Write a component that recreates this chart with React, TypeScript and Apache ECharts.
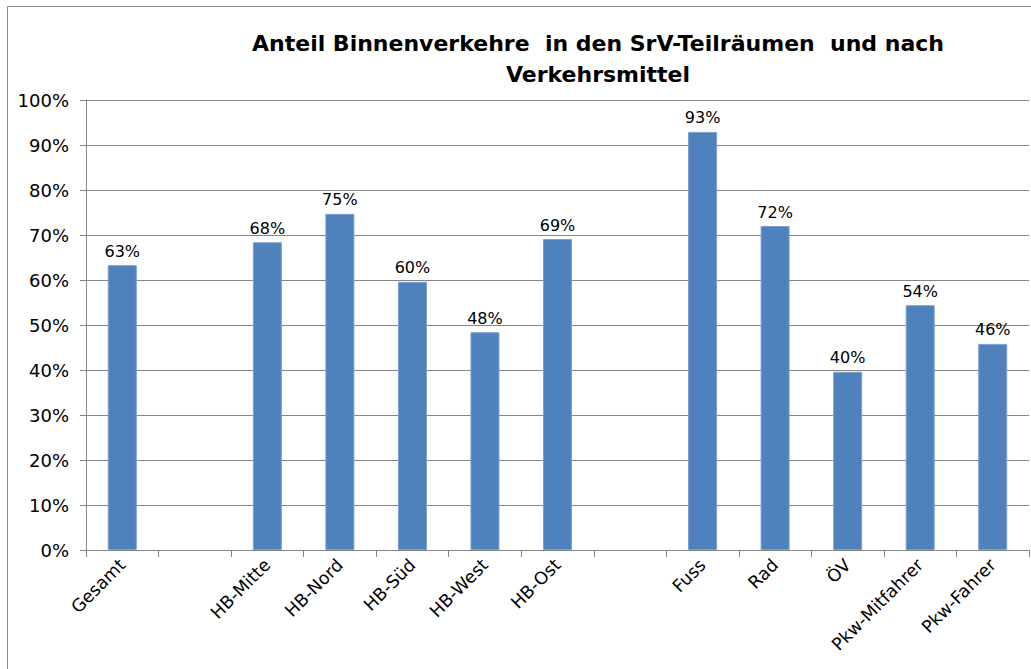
import React, { useEffect, useRef } from "react";
import * as echarts from "echarts";

const categories = [
  "Gesamt", "", "HB-Mitte", "HB-Nord", "HB-Süd", "HB-West", "HB-Ost", " ",
  "Fuss", "Rad", "ÖV", "Pkw-Mitfahrer", "Pkw-Fahrer",
];
const values: (number | string)[] = [
  63.3, "-", 68.4, 74.7, 59.6, 48.4, 69.1, "-", 92.9, 72.0, 39.6, 54.4, 45.8,
];
const yTicks = { min: 0, max: 100, interval: 10 };
const titleText = "Anteil Binnenverkehre  in den SrV-Teilräumen  und nach\nVerkehrsmittel";

export default function App() {
  const ref = useRef<HTMLDivElement>(null);
  useEffect(() => {
    document.body.style.margin = "0";
    const chart = echarts.init(ref.current!, null, { renderer: "svg" });
    const font = "DejaVu Sans";
    chart.setOption({
      animation: false,
      backgroundColor: "#ffffff",
      title: {
        text: titleText,
        left: 593,
        top: 23,
        textAlign: "center",
        textStyle: {
          fontFamily: font,
          fontWeight: "bold",
          fontSize: 22,
          lineHeight: 31,
          color: "#000",
        },
      },
      graphic: [
        {
          type: "rect",
          shape: { x: 7.5, y: 6.5, width: 1100, height: 800 },
          style: { fill: "none", stroke: "#8c8c8c", lineWidth: 1 },
          silent: true,
        },
      ],
      grid: { left: 86, right: 2, top: 100, bottom: 119, containLabel: false },
      xAxis: {
        type: "category",
        data: categories,
        axisLine: { show: true, lineStyle: { color: "#868686", width: 1 } },
        axisTick: { show: true, length: 7, alignWithLabel: false, lineStyle: { color: "#868686" } },
        axisLabel: {
          rotate: 45,
          interval: 0,
          margin: 12,
          fontFamily: font,
          fontSize: 17.5,
          color: "#000",
        },
      },
      yAxis: {
        type: "value",
        min: yTicks.min,
        max: yTicks.max,
        interval: yTicks.interval,
        axisLine: { show: true, lineStyle: { color: "#868686", width: 1 } },
        axisTick: { show: true, length: 6, inside: false, lineStyle: { color: "#868686" } },
        splitLine: { show: true, lineStyle: { color: "#868686", width: 1 } },
        axisLabel: {
          formatter: (v: number) => Math.round(v) + "%",
          margin: 17,
          fontFamily: font,
          fontSize: 18,
          color: "#000",
        },
      },
      series: [
        {
          type: "bar",
          data: values,
          barWidth: "40%",
          itemStyle: { color: "#4F81BD", borderColor: "#7DA0CE", borderWidth: 1 },
          label: {
            show: true,
            position: "top",
            distance: 6,
            fontFamily: font,
            fontSize: 16,
            color: "#000",
            formatter: (p: any) => Math.round(p.value) + "%",
          },
        },
      ],
    });
    return () => chart.dispose();
  }, []);
  return <div ref={ref} style={{ width: 1031, height: 669 }} />;
}
